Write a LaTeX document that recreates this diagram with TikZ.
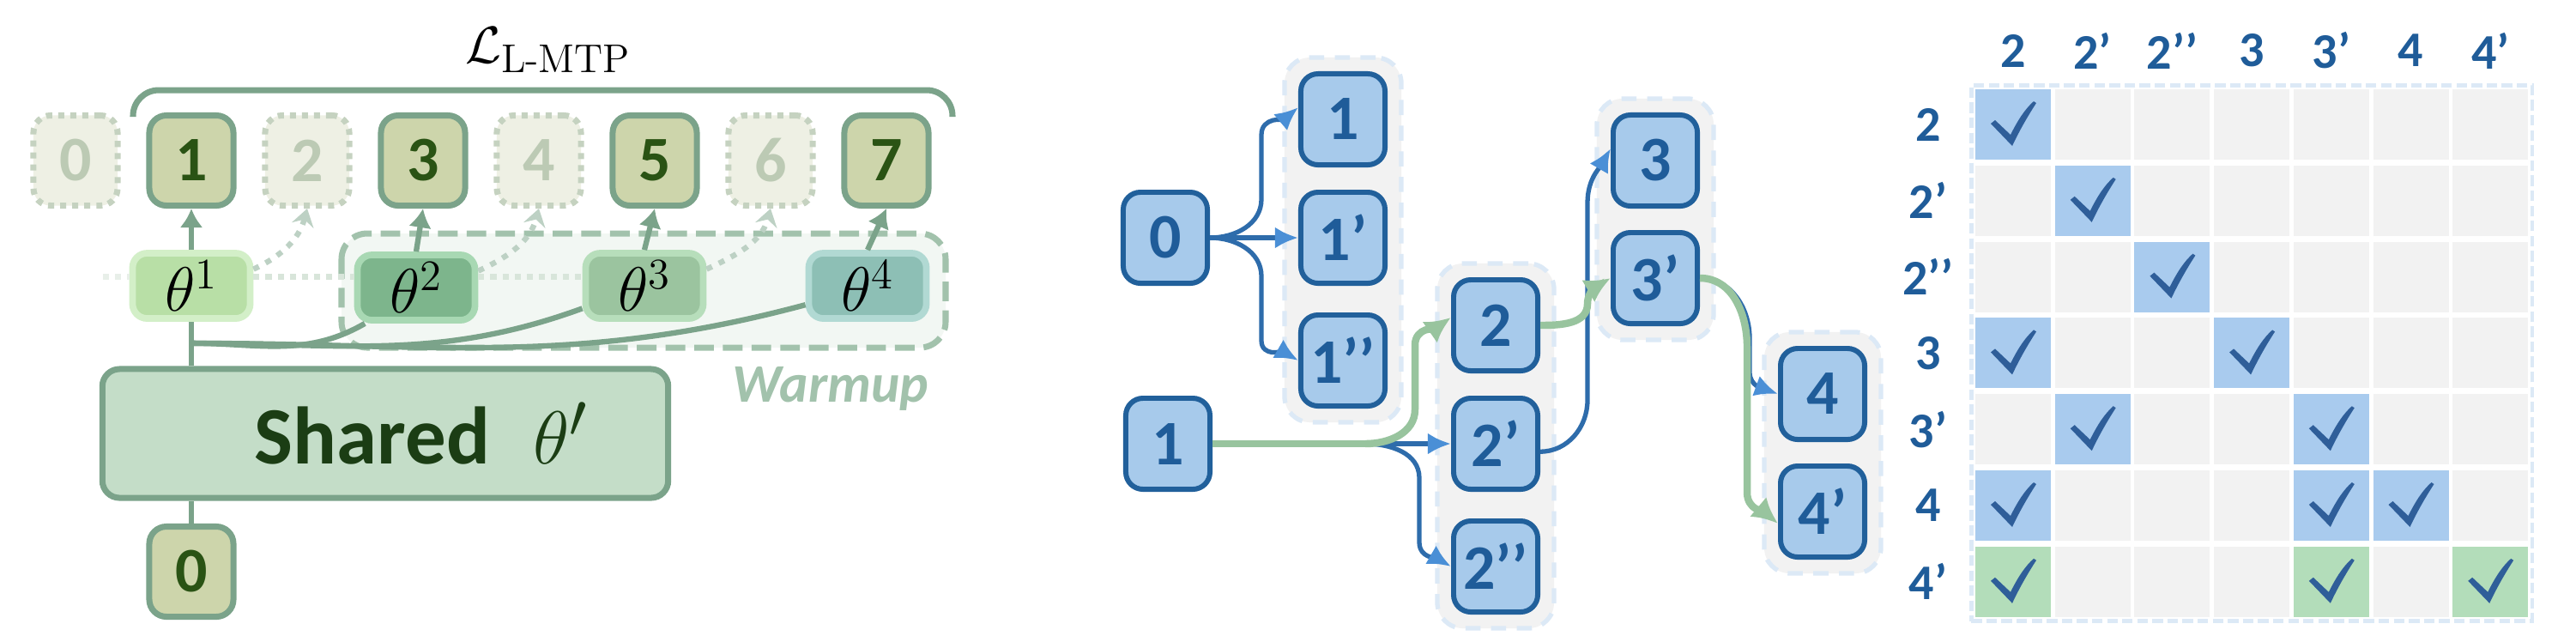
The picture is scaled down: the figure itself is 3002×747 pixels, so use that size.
\documentclass[tikz,border=0pt]{standalone}
\usepackage{amsmath}
\usepackage{fontspec}
\newfontfamily\calib{Carlito}
\usetikzlibrary{positioning,calc,fit,arrows.meta,backgrounds}

% left panel
\definecolor{tokline}{HTML}{7BA38A}
\definecolor{tokfill}{HTML}{CDD5AB}
\definecolor{toktext}{HTML}{2A5314}
\definecolor{fadefill}{HTML}{EEF0E4}
\definecolor{fadeline}{HTML}{C5D2C0}
\definecolor{fadetext}{HTML}{BCCAB4}
\definecolor{dotgreen}{HTML}{BDD1C4}
\definecolor{dotpale}{HTML}{D8E5DA}
\definecolor{warmfill}{HTML}{F2F7F3}
\definecolor{warmline}{HTML}{A2C2AC}
\definecolor{sharedfill}{HTML}{C4DDC8}
\definecolor{sharedtext}{HTML}{1B3D14}
\definecolor{th1fill}{HTML}{B8DFA6}
\definecolor{th1line}{HTML}{D3EFC8}
\definecolor{th2fill}{HTML}{7DB58C}
\definecolor{th2line}{HTML}{A8D8B3}
\definecolor{th3fill}{HTML}{9BC49F}
\definecolor{th3line}{HTML}{B7DEBB}
\definecolor{th4fill}{HTML}{8DBFB5}
\definecolor{th4line}{HTML}{B1D9D3}
% middle and right panels
\definecolor{bluefill}{HTML}{A7CAEB}
\definecolor{blueline}{HTML}{21609B}
\definecolor{bluetext}{HTML}{1F5C99}
\definecolor{arrblue}{HTML}{4A8FD6}
\definecolor{linkblue}{HTML}{2E6CAB}
\definecolor{pathgreen}{HTML}{98C49E}
\definecolor{groupfill}{HTML}{F2F2F2}
\definecolor{groupline}{HTML}{DCE9F6}
\definecolor{cellgrey}{HTML}{F2F2F2}
\definecolor{chkblue}{HTML}{A9CBEE}
\definecolor{chkgreen}{HTML}{B3DDBA}
\definecolor{chkmark}{HTML}{2F5E99}

\tikzset{
  tok/.style={draw=tokline, fill=tokfill, text=toktext, line width=2pt,
    rounded corners=0.2cm, minimum width=0.98cm, minimum height=1.05cm,
    inner sep=0pt, font=\calib\bfseries\fontsize{21}{22}\selectfont},
  fadetok/.style={tok, draw=fadeline, fill=fadefill, text=fadetext,
    dash pattern=on 2pt off 2pt},
  head/.style={line width=2.2pt, rounded corners=0.17cm, minimum width=1.37cm,
    minimum height=0.76cm, inner sep=0pt, font=\fontsize{20.5}{22}\selectfont},
  shared/.style={draw=tokline, fill=sharedfill, text=sharedtext, line width=2pt,
    rounded corners=0.2cm, minimum width=6.59cm, minimum height=1.5cm,
    inner sep=0pt, font=\calib\bfseries\fontsize{27}{30}\selectfont},
  tokarr/.style={draw=tokline, line width=1.8pt, -{Latex[length=0.22cm,width=0.27cm]}},
  trunk/.style={draw=tokline, line width=1.8pt},
  dotarr/.style={draw=dotgreen, line width=1.8pt, dash pattern=on 2pt off 2.5pt,
    -{Stealth[length=0.2cm,width=0.26cm,inset=0.07cm]}},
  dotline/.style={draw=dotpale, line width=2pt, dash pattern=on 2pt off 2pt},
  warmbox/.style={draw=warmline, fill=warmfill, line width=2pt,
    dash pattern=on 6.5pt off 3pt, rounded corners=0.3cm},
  warmlbl/.style={text=warmline, font=\calib\bfseries\itshape\fontsize{18}{19}\selectfont},
  blk/.style={draw=blueline, fill=bluefill, text=bluetext, line width=1.7pt,
    rounded corners=0.2cm, minimum width=0.98cm, minimum height=1.06cm,
    inner sep=0pt, font=\calib\bfseries\fontsize{21}{22}\selectfont},
  grp/.style={draw=groupline, fill=groupfill, line width=1.5pt,
    dash pattern=on 5pt off 3.5pt, rounded corners=0.3cm, inner sep=0.16cm},
  bluearr/.style={draw=linkblue, line width=1.5pt,
    -{Latex[length=0.27cm,width=0.25cm,color=arrblue]}},
  greenarr/.style={draw=pathgreen, line width=2.4pt, -{Latex[length=0.3cm,width=0.3cm]}},
  cell/.style={fill=cellgrey, minimum width=0.88cm, minimum height=0.82cm, inner sep=0pt},
  hdr/.style={text=bluetext, font=\calib\bfseries\fontsize{16.5}{17}\selectfont},
  gridbox/.style={draw=groupline, line width=1.3pt, dash pattern=on 3.5pt off 1.5pt,
    inner sep=0.04cm},
  checkmk/.pic={\fill[chkmark] (-26,-1) -- (-21,-5) -- (-3,12)
    .. controls (6,-6) and (14,-18) .. (24,-27) -- (27,-25)
    .. controls (16,-8) and (7,8) .. (-1,25) -- cycle;}
}

\begin{document}
\begin{tikzpicture}[x=0.01cm, y=-0.01cm]
  \begin{scope}[on background layer]
    \fill[white] (0,0) rectangle (3002,747);
  \end{scope}
  \useasboundingbox (0,0) rectangle (3002,747);

  % ---- left: heads over a shared trunk
  \node[font=\fontsize{19}{20}\selectfont] (loss) at (639,58) {$\mathcal{L}_{\textrm{L-MTP}}$};
  \draw[trunk, line width=2pt, rounded corners=0.3cm] (155,136) -- (155,105) -- (1110,105) -- (1110,136);
  \foreach \i in {0,2,4,6} \node[fadetok] (t\i) at ({88+135*\i},187) {\i};
  \foreach \i in {1,3,5,7} \node[tok] (t\i) at ({88+135*\i},187) {\i};

  \draw[warmbox] (398,272) rectangle (1102,405);
  \node[warmlbl] (warmtxt) at (968,453) {Warmup};

  \node[head, fill=th1fill, draw=th1line] (th1) at (223,333) {$\theta^1$};
  \node[head, fill=th2fill, draw=th2line] (th2) at (485,335) {$\theta^2$};
  \node[head, fill=th3fill, draw=th3line] (th3) at (751,333) {$\theta^3$};
  \node[head, fill=th4fill, draw=th4line] (th4) at (1011,333) {$\theta^4$};

  \node[shared] (shared) at (449,505) {\hspace*{0.84cm}Shared\hspace{0.5cm}{\fontsize{28}{30}\selectfont$\theta'$}};
  \node[tok] (t0b) at (223,666) {0};

  \coordinate (dotstart) at (120,322);
  \draw[dotline, draw=dotpale!60] (dotstart) -- (dotstart -| th1.west);
  \draw[dotline] (dotstart -| th1.east) -- (dotstart -| th2.west);
  \draw[dotline] (dotstart -| th2.east) -- (dotstart -| th3.west);

  \draw[trunk] (t0b.north) -- (t0b.north |- shared.south);
  \draw[trunk] (shared.north -| th1.south) -- (th1.south);
  \coordinate (join) at ($(th1.south)+(0,25)$);
  \draw[trunk] (th2.215) to[out=-150,in=0] (join);
  \draw[trunk] (th3.200) to[out=-160,in=0] (join);
  \draw[trunk] (th4.197) to[out=-165,in=0] (join);

  \draw[tokarr] (th1.north) -- (t1.south);
  \draw[tokarr] (th2.north) -- (t3.south);
  \draw[tokarr] (th3.north) -- (t5.south);
  \draw[tokarr] (th4.north) -- (t7.south);
  \draw[dotarr] (th1.15) to[out=25,in=-105] (t2.south);
  \draw[dotarr] (th2.15) to[out=25,in=-105] (t4.south);
  \draw[dotarr] (th3.15) to[out=25,in=-105] (t6.south);

  % ---- middle: candidate tree
  \node[blk] (m0) at (1358,277) {0};
  \node[blk] (m1) at (1361,517) {1};
  \node[blk] (a1) at (1565,139) {1};
  \node[blk] (a1p) at (1565,277) {1’};
  \node[blk] (a1pp) at (1565,420) {1’’};
  \node[blk] (b2) at (1743,379) {2};
  \node[blk] (b2p) at (1743,517) {2’};
  \node[blk] (b2pp) at (1743,660) {2’’};
  \node[blk] (c3) at (1929,187) {3};
  \node[blk] (c3p) at (1929,324) {3’};
  \node[blk] (d4) at (2124,459) {4};
  \node[blk] (d4p) at (2124,596) {4’};
  \begin{scope}[on background layer]
    \node[grp, fit=(a1)(a1pp)] (ga) {};
    \node[grp, fit=(b2)(b2pp)] (gb) {};
    \node[grp, fit=(c3)(c3p)] (gc) {};
    \node[grp, fit=(d4)(d4p)] (gd) {};
  \end{scope}

  \draw[bluearr] (m0.east) -- (a1p.west);
  \draw[bluearr] (m0.east) to[out=0,in=-90] ++(60,-45) -- ++(0,-75) to[out=90,in=-140] (a1.165);
  \draw[bluearr] (m0.east) to[out=0,in=90] ++(60,45) -- ++(0,75) to[out=-90,in=150] (a1pp.west);

  \coordinate (fork) at ($(m1.east)+(178,0)$);
  \draw[bluearr] (fork) -- (b2p.west);
  \draw[bluearr] (fork) to[out=0,in=90] ++(63,40) -- ++(0,75) to[out=-90,in=150] (b2pp.west);
  \draw[greenarr, -] (m1.east) -- (fork);
  \draw[greenarr] (fork) to[out=0,in=-90] ++(58,-40) -- ++(0,-75) to[out=90,in=-145] (b2.170);

  \draw[bluearr] (b2p.-10) to[out=0,in=-90] ++(55,-60) -- ++(0,-230) to[out=90,in=-120] (c3.165);
  \draw[greenarr] (b2.east) to[out=0,in=-90] ++(55,-25) to[out=90,in=-150] (c3p.west);

  \draw[bluearr] (c3p.east) to[out=0,in=90] ++(58,70) -- ++(0,40) to[out=-90,in=160] (d4.west);
  \draw[greenarr] (c3p.east) to[out=0,in=90] ++(55,80) -- ++(0,170) to[out=-90,in=140] (d4p.195);

  % ---- right: attention mask
  \foreach \lbl [count=\c] in {2,2’,2’’,3,3’,4,4’} {
    \node[hdr] (col\c) at ({2346+92.7*(\c-1)},59) {\lbl};
    \node[hdr] (row\c) at (2247,{145+88.8*(\c-1)}) {\lbl};
  }
  \foreach \r in {1,...,7}
    \foreach \c in {1,...,7}
      \node[cell] (c\r-\c) at ({2346+92.7*(\c-1)},{145+88.8*(\r-1)}) {};
  \begin{scope}[on background layer]
    \node[gridbox, fit=(c1-1)(c7-7)] (mask) {};
  \end{scope}
  \foreach \r/\c in {1/1,2/2,3/3,4/1,4/4,5/2,5/5,6/1,6/5,6/6} {
    \node[cell, fill=chkblue] at (c\r-\c) {};
    \pic at (c\r-\c) {checkmk};
  }
  \foreach \c in {1,5,7} {
    \node[cell, fill=chkgreen] at (c7-\c) {};
    \pic at (c7-\c) {checkmk};
  }
\end{tikzpicture}
\end{document}
